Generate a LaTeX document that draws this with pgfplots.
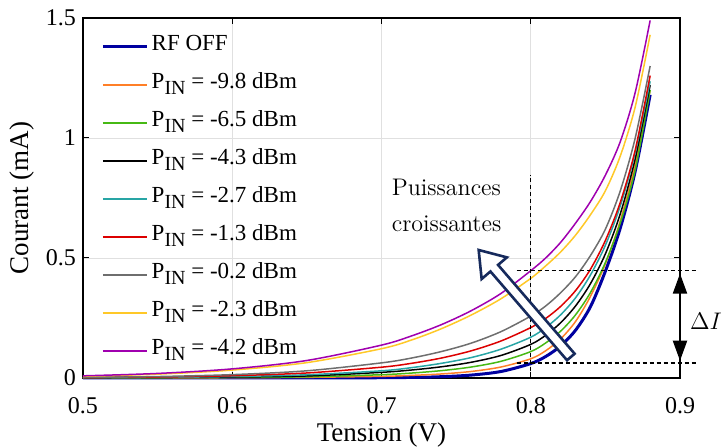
\documentclass[border=0pt]{standalone}
\usepackage{fontspec}
\newfontfamily\tnr{Liberation Serif}
\usepackage{pgfplots}
\pgfplotsset{compat=1.18}
\usetikzlibrary{arrows.meta}
\definecolor{cOff}{RGB}{0,0,160}
\definecolor{cOr}{RGB}{255,127,39}
\definecolor{cGr}{RGB}{70,185,20}
\definecolor{cBk}{RGB}{0,0,0}
\definecolor{cCy}{RGB}{40,165,165}
\definecolor{cRd}{RGB}{220,0,0}
\definecolor{cGy}{RGB}{110,110,110}
\definecolor{cYe}{RGB}{255,200,40}
\definecolor{cPu}{RGB}{160,0,175}
\definecolor{navy}{RGB}{22,42,92}
\newcommand{\pin}{P\raisebox{-0.6ex}{\fontsize{10}{10}\selectfont IN}}
\begin{document}
\begin{tikzpicture}
\begin{axis}[
  scale only axis, width=298.5pt, height=180pt, at={(0,0)}, anchor=south west,
  xmin=0.5, xmax=0.9, ymin=0, ymax=1.5,
  xtick={0.5,0.6,0.7,0.8,0.9}, ytick={0,0.5,1,1.5},
  xticklabels={0.5,0.6,0.7,0.8,0.9}, yticklabels={0,0.5,1,1.5},
  tick align=inside, major tick length=3pt,
  grid=major, grid style={color=black!12, line width=0.4pt},
  axis line style={line width=0.6pt},
  tick style={black, line width=0.5pt},
  xticklabel style={font=\tnr\fontsize{12}{12}\selectfont, yshift=-6pt},
  yticklabel style={font=\tnr\fontsize{12}{12}\selectfont},
  xlabel={Tension (V)}, ylabel={Courant (mA)},
  xlabel style={font=\tnr\fontsize{13.5}{14}\selectfont, at={([yshift=-28.5pt]axis description cs:0.5,0)}, anchor=center},
  ylabel style={font=\tnr\fontsize{13.5}{14}\selectfont, at={([xshift=-30.5pt]axis description cs:0,0.5)}, anchor=center},
  clip=false,
  legend cell align=left,
  legend style={draw=none, fill=none, at={(0.02,0.975)}, anchor=north west,
    font=\tnr\fontsize{11.5}{12}\selectfont,
    nodes={text height=8pt, text depth=4.5pt, inner sep=1.5pt}, row sep=3.5pt},
  legend image code/.code={\draw[#1] (0cm,0cm) -- (0.78cm,0cm);},
  every axis plot/.append style={smooth, line width=0.75pt},
]
\addplot[cOff, line width=1.5pt] coordinates {(0.50,0.0000)(0.60,0.0001)(0.65,0.0003)(0.70,0.0011)(0.72,0.0024)(0.74,0.0054)(0.76,0.0121)(0.78,0.027)(0.80,0.06)(0.81,0.0895)(0.82,0.1335)(0.83,0.199)(0.84,0.297)(0.85,0.445)(0.86,0.625)(0.87,0.862)(0.88,1.18)};
\addlegendentry{RF OFF}
\addplot[cOr] coordinates {(0.50,0.0002)(0.55,0.0005)(0.60,0.0012)(0.65,0.0028)(0.70,0.0069)(0.72,0.0108)(0.74,0.0168)(0.76,0.0271)(0.78,0.0457)(0.80,0.08)(0.81,0.1135)(0.82,0.1628)(0.83,0.2353)(0.84,0.3401)(0.85,0.476)(0.86,0.655)(0.87,0.893)(0.88,1.20)};
\addlegendentry{\pin{} = -9.8 dBm}
\addplot[cGr] coordinates {(0.50,0.0004)(0.55,0.0009)(0.60,0.0022)(0.65,0.005)(0.70,0.0137)(0.72,0.0205)(0.74,0.0306)(0.76,0.0456)(0.78,0.0694)(0.80,0.11)(0.81,0.146)(0.82,0.195)(0.83,0.263)(0.84,0.356)(0.85,0.481)(0.86,0.646)(0.87,0.868)(0.88,1.20)};
\addlegendentry{\pin{} = -6.5 dBm}
\addplot[cBk] coordinates {(0.50,0.0007)(0.55,0.0017)(0.60,0.004)(0.65,0.0085)(0.70,0.0236)(0.72,0.0332)(0.74,0.0466)(0.76,0.0654)(0.78,0.0938)(0.80,0.14)(0.81,0.178)(0.82,0.23)(0.83,0.30)(0.84,0.393)(0.85,0.517)(0.86,0.684)(0.87,0.914)(0.88,1.22)};
\addlegendentry{\pin{} = -4.3 dBm}
\addplot[cCy] coordinates {(0.50,0.001)(0.55,0.0025)(0.60,0.006)(0.65,0.0135)(0.70,0.030)(0.72,0.043)(0.74,0.061)(0.76,0.085)(0.78,0.12)(0.80,0.17)(0.81,0.210)(0.82,0.263)(0.83,0.334)(0.84,0.429)(0.85,0.553)(0.86,0.717)(0.87,0.939)(0.88,1.236)};
\addlegendentry{\pin{} = -2.7 dBm}
\addplot[cRd] coordinates {(0.50,0.0015)(0.55,0.004)(0.60,0.0095)(0.65,0.021)(0.70,0.045)(0.72,0.061)(0.74,0.083)(0.76,0.113)(0.78,0.154)(0.80,0.21)(0.81,0.248)(0.82,0.298)(0.83,0.364)(0.84,0.453)(0.85,0.573)(0.86,0.732)(0.87,0.95)(0.88,1.26)};
\addlegendentry{\pin{} = -1.3 dBm}
\addplot[cGy] coordinates {(0.50,0.002)(0.55,0.006)(0.60,0.014)(0.65,0.03)(0.70,0.063)(0.72,0.083)(0.74,0.11)(0.76,0.145)(0.78,0.193)(0.80,0.258)(0.81,0.30)(0.82,0.355)(0.83,0.422)(0.84,0.51)(0.85,0.62)(0.86,0.78)(0.87,1.0)(0.88,1.30)};
\addlegendentry{\pin{} = -0.2 dBm}
\addplot[cYe] coordinates {(0.50,0.007)(0.55,0.016)(0.60,0.033)(0.65,0.064)(0.70,0.122)(0.72,0.158)(0.74,0.205)(0.76,0.262)(0.78,0.33)(0.80,0.415)(0.81,0.467)(0.82,0.525)(0.83,0.595)(0.84,0.68)(0.85,0.78)(0.86,0.925)(0.87,1.13)(0.88,1.43)};
\addlegendentry{\pin{} = -2.3 dBm}
\addplot[cPu] coordinates {(0.50,0.009)(0.55,0.019)(0.60,0.038)(0.65,0.073)(0.70,0.137)(0.72,0.175)(0.74,0.222)(0.76,0.28)(0.78,0.352)(0.80,0.447)(0.81,0.50)(0.82,0.565)(0.83,0.645)(0.84,0.735)(0.85,0.845)(0.86,0.985)(0.87,1.19)(0.88,1.49)};
\addlegendentry{\pin{} = -4.2 dBm}
% annotations
\draw[black, line width=0.55pt, dash pattern=on 2pt off 1.5pt] (axis cs:0.8,0) -- (axis cs:0.8,0.846);
\draw[black, line width=0.55pt, dash pattern=on 2pt off 1.5pt] (axis cs:0.7906,0.447) -- (axis cs:0.9107,0.447);
\draw[black, line width=0.55pt, dash pattern=on 2pt off 1.5pt] (axis cs:0.7906,0.0625) -- (axis cs:0.9107,0.0625);
\draw[black, line width=1pt, {Triangle[width=7pt,length=10pt]}-{Triangle[width=7pt,length=10pt]}] (axis cs:0.9,0.435) -- (axis cs:0.9,0.072);
\node[font=\fontsize{12.5}{13}\selectfont] at (axis cs:0.9174,0.235) {$\Delta I$};
\draw[navy, line width=1.3pt, fill=white, line join=miter] (axis cs:0.8294,0.1011) -- (axis cs:0.7781,0.4711) -- (axis cs:0.7840,0.5026) -- (axis cs:0.7651,0.5333) -- (axis cs:0.7671,0.4124) -- (axis cs:0.7730,0.4439) -- (axis cs:0.8243,0.0739) -- cycle;
\node[align=left, font=\fontsize{12}{18}\selectfont] at (axis cs:0.7436,0.72) {Puissances\\croissantes};
\end{axis}
\pgfresetboundingbox
\path[use as bounding box] (-41.5pt,-35pt) rectangle (320pt,189pt);
\end{tikzpicture}
\end{document}
